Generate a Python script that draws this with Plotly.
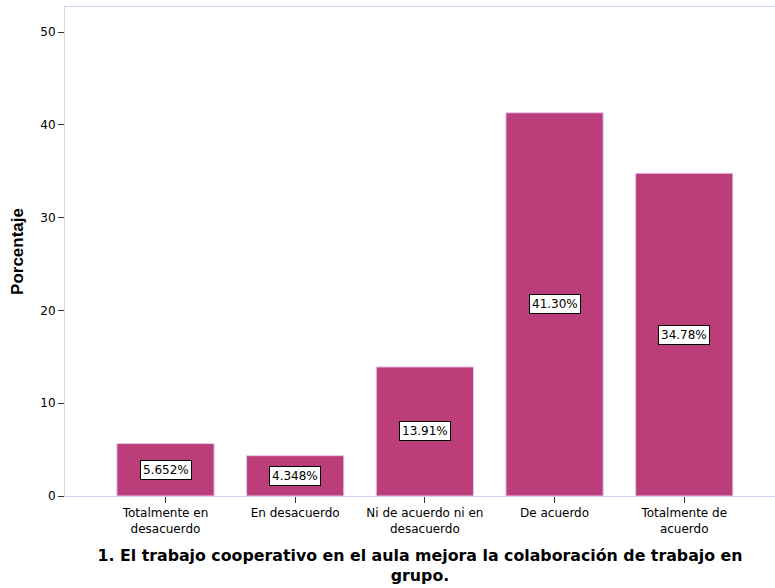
import plotly.graph_objs as go

# Datos del gráfico
categorias = ["Totalmente en<br>desacuerdo", "En desacuerdo", "Ni de acuerdo ni en<br>desacuerdo",
              "De acuerdo", "Totalmente de<br>acuerdo"]
porcentajes = [5.652, 4.348, 13.91, 41.30, 34.78]
etiquetas = ["5.652%", "4.348%", "13.91%", "41.30%", "34.78%"]
y_ticks = [0, 10, 20, 30, 40, 50]

bar_color = '#BB3E7B'
frame_color = '#E2CCEF'

fig = go.Figure()
fig.add_trace(go.Bar(
    x=list(range(len(categorias))),
    y=porcentajes,
    width=0.75,
    marker=dict(color=bar_color, line=dict(color='#E6C8F0', width=1)),
    hoverinfo='skip',
))

# Etiquetas en cajas blancas en el centro de cada barra
for i, (v, t) in enumerate(zip(porcentajes, etiquetas)):
    fig.add_annotation(
        x=i, y=v / 2, text=t, showarrow=False,
        font=dict(family='DejaVu Sans', size=12, color='black'),
        bgcolor='white', bordercolor='black', borderwidth=1, borderpad=2,
    )

fig.update_layout(
    width=775, height=588,
    margin=dict(l=65, r=0, t=7, b=92),
    plot_bgcolor='white', paper_bgcolor='white',
    showlegend=False,
    font=dict(family='DejaVu Sans', size=12, color='black'),
    bargap=0.25,
)
fig.update_xaxes(
    range=[-0.775, 4.70],
    tickmode='array', tickvals=list(range(len(categorias))), ticktext=categorias,
    ticks='outside', ticklen=6, tickcolor='#333333',
    showline=True, linecolor=frame_color, linewidth=1, mirror=True,
    showgrid=False, zeroline=False,
    title=dict(text='<b>1. El trabajo cooperativo en el aula mejora la colaboración de trabajo en<br>grupo.</b>',
               font=dict(family='DejaVu Sans', size=15.8), standoff=14),
)
fig.update_yaxes(
    range=[0, 52.7],
    tickmode='array', tickvals=y_ticks,
    ticks='outside', ticklen=6, tickcolor='#333333',
    showline=True, linecolor=frame_color, linewidth=1, mirror=True,
    showgrid=False, zeroline=False,
    title=dict(text='<b>Porcentaje</b>', font=dict(family='Liberation Sans, Arial', size=17), standoff=12),
)

fig.write_html("out.html", config={'displayModeBar': False},
               post_script="document.body.style.margin='0';")
